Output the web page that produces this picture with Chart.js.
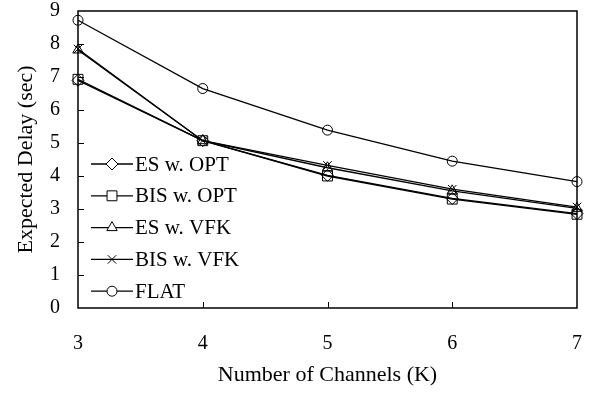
<!DOCTYPE html>
<html>
<head>
<meta charset="utf-8">
<script src="https://cdn.jsdelivr.net/npm/chart.js@4/dist/chart.umd.min.js"></script>
<style>
  html, body { margin: 0; padding: 0; background: #fff; }
  #wrap { width: 592px; height: 398px; }
</style>
</head>
<body>
<div id="wrap"><canvas id="c" width="592" height="398"></canvas></div>
<script>
const channels = ['3', '4', '5', '6', '7'];
const esOpt  = [6.90, 5.07, 4.02, 3.32, 2.86];
const bisOpt = [6.93, 5.07, 4.00, 3.30, 2.84];
const esVfk  = [7.82, 5.07, 4.25, 3.55, 3.02];
const bisVfk = [7.85, 5.07, 4.32, 3.60, 3.06];
const flat   = [8.72, 6.65, 5.39, 4.45, 3.83];
const yTicks = [0, 1, 2, 3, 4, 5, 6, 7, 8, 9];

const FONT = "'Liberation Serif', 'Times New Roman', serif";

const mk = (label, data, pointStyle, radius) => ({
  label, data, pointStyle,
  pointRadius: radius,
  pointHoverRadius: radius,
  borderColor: '#000',
  backgroundColor: 'rgba(0,0,0,0)',
  pointBorderColor: '#000',
  pointBackgroundColor: 'rgba(0,0,0,0)',
  pointBorderWidth: 1,
  borderWidth: 1.3,
  tension: 0,
  fill: false,
  clip: false
});

const datasets = [
  mk('ES w. OPT', esOpt, 'rectRot', 6),
  mk('BIS w. OPT', bisOpt, 'rect', 7),
  mk('ES w. VFK', esVfk, 'triangle', 6),
  mk('BIS w. VFK', bisVfk, 'crossRot', 6),
  mk('FLAT', flat, 'circle', 5)
];

// frame, inward ticks and the inside legend
const framePlugin = {
  id: 'frame',
  afterDraw(chart) {
    const { ctx, chartArea: a, scales } = chart;
    ctx.save();
    ctx.strokeStyle = '#000';
    ctx.lineWidth = 1.5;
    ctx.strokeRect(a.left, a.top, a.right - a.left, a.bottom - a.top);
    ctx.lineWidth = 1;
    ctx.beginPath();
    yTicks.forEach(v => {
      if (v === 0 || v === 9) return;
      const y = Math.round(scales.y.getPixelForValue(v)) + 0.5;
      ctx.moveTo(a.left, y); ctx.lineTo(a.left + 6, y);
    });
    channels.forEach((c, i) => {
      if (i === 0 || i === channels.length - 1) return;
      const x = Math.round(scales.x.getPixelForValue(i)) + 0.5;
      ctx.moveTo(x, a.bottom); ctx.lineTo(x, a.bottom - 6);
    });
    ctx.stroke();

    // legend
    const x0 = a.left + 13, x1 = a.left + 55, tx = a.left + 57;
    let y = a.top + 153;
    ctx.font = '21px ' + FONT;
    ctx.textBaseline = 'middle';
    ctx.fillStyle = '#000';
    chart.data.datasets.forEach(ds => {
      ctx.lineWidth = 1.3;
      ctx.beginPath();
      ctx.moveTo(x0, y); ctx.lineTo(x1, y);
      ctx.stroke();
      if (Chart.helpers && Chart.helpers.drawPoint) {
        ctx.fillStyle = '#fff';
        ctx.lineWidth = 1;
        Chart.helpers.drawPoint(ctx, {
          pointStyle: ds.pointStyle, radius: ds.pointRadius, rotation: 0, borderWidth: 1
        }, (x0 + x1) / 2, y);
        ctx.fillStyle = '#000';
      }
      ctx.fillText(ds.label, tx, y + 1);
      y += 31.8;
    });
    ctx.restore();
  }
};

new Chart(document.getElementById('c'), {
  type: 'line',
  data: { labels: channels, datasets },
  options: {
    responsive: false,
    animation: false,
    layout: { autoPadding: false, padding: { top: 11, right: 15, left: 0, bottom: 0 } },
    plugins: { legend: { display: false }, tooltip: { enabled: false } },
    scales: {
      x: {
        type: 'category',
        offset: false,
        grid: { display: false, drawTicks: false },
        border: { display: false },
        ticks: { color: '#000', font: { family: FONT, size: 20 }, padding: 24, maxRotation: 0 },
        title: { display: true, text: 'Number of Channels (K)', color: '#000', font: { family: FONT, size: 22 }, padding: { top: 4, bottom: 10 } },
        afterFit: s => { s.height = 90; s.paddingRight = 0; }
      },
      y: {
        min: 0, max: 9,
        grid: { display: false, drawTicks: false },
        border: { display: false },
        ticks: { stepSize: 1, color: '#000', font: { family: FONT, size: 20 }, padding: 18 },
        title: { display: true, text: 'Expected Delay (sec)', color: '#000', font: { family: FONT, size: 22 }, padding: { top: 13, bottom: 0 } },
        afterFit: s => { s.width = 78; s.paddingTop = 0; s.paddingBottom = 0; }
      }
    }
  },
  plugins: [framePlugin]
});
</script>
</body>
</html>
